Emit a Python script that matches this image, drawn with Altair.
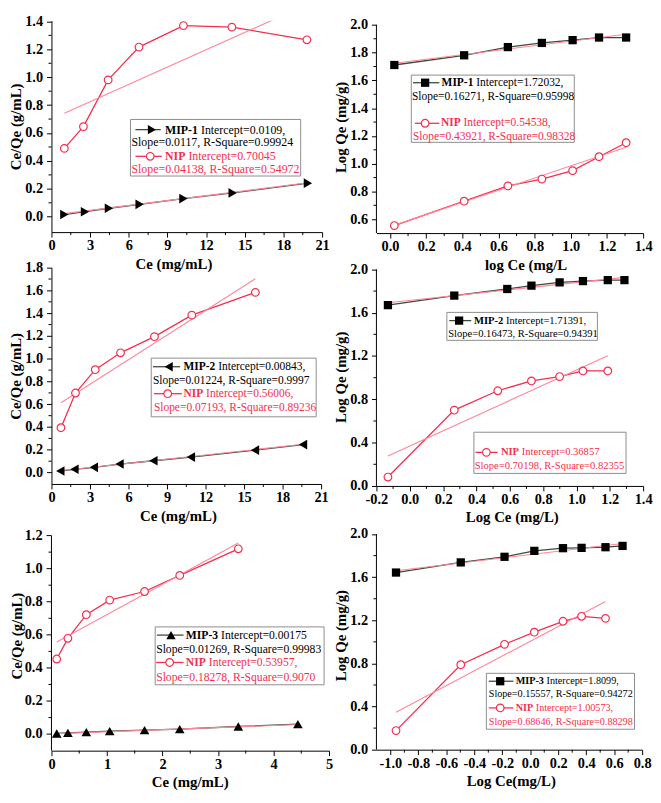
import altair as alt
import pandas as pd

FONT = "Liberation Serif"
RED = "#f2304e"
FIT = "#ff8799"
DARK = "#3b4b3b"
BOX = "#8c8c8c"

# ---------------- data ----------------
# Panel 1 : Langmuir, MIP-1 / NIP
p1_mip_x = [1.0, 2.6, 4.46, 6.84, 10.24, 14.06, 19.9]
p1_mip_y = [0.016, 0.036, 0.061, 0.089, 0.130, 0.171, 0.241]
p1_nip_x = [1.0, 2.48, 4.4, 6.79, 10.24, 14.0, 19.82]
p1_nip_y = [0.49, 0.646, 0.981, 1.216, 1.37, 1.359, 1.268]
p1_mfit_x = [1.0, 19.9]
p1_mfit_y = [0.0226, 0.2437]
p1_nfit_x = [1.0, 19.82]
p1_nfit_y = [0.742, 1.520]

# Panel 2 : Freundlich, MIP-1 / NIP
p2_mip_x = [0.024, 0.41, 0.652, 0.84, 1.01, 1.156, 1.306]
p2_mip_y = [1.711, 1.781, 1.84, 1.87, 1.89, 1.909, 1.909]
p2_nip_x = [0.024, 0.41, 0.652, 0.84, 1.01, 1.156, 1.306]
p2_nip_y = [0.554, 0.73, 0.84, 0.889, 0.95, 1.05, 1.151]
p2_mfit_x = [0.024, 1.306]
p2_mfit_y = [1.724, 1.933]
p2_nfit_x = [0.024, 1.306]
p2_nfit_y = [0.556, 1.119]

# Panel 3 : Langmuir, MIP-2 / NIP
p3_mip_x = [0.69, 1.79, 3.30, 5.30, 7.94, 10.86, 15.85, 19.59]
p3_mip_y = [0.014, 0.029, 0.046, 0.075, 0.104, 0.136, 0.197, 0.246]
p3_nip_x = [0.74, 1.87, 3.41, 5.38, 8.02, 10.93, 15.88]
p3_nip_y = [0.394, 0.699, 0.904, 1.052, 1.194, 1.383, 1.583]
p3_mfit_x = [0.69, 19.59]
p3_mfit_y = [0.0169, 0.2482]
p3_nfit_x = [0.74, 15.88]
p3_nfit_y = [0.613, 1.702]

# Panel 4 : Freundlich, MIP-2 / NIP
p4_mip_x = [-0.131, 0.267, 0.585, 0.730, 0.899, 1.039, 1.188, 1.288]
p4_mip_y = [1.670, 1.758, 1.819, 1.850, 1.880, 1.892, 1.901, 1.901]
p4_nip_x = [-0.131, 0.267, 0.528, 0.730, 0.899, 1.039, 1.188]
p4_nip_y = [0.082, 0.700, 0.879, 0.970, 1.010, 1.062, 1.062]
p4_mfit_x = [-0.131, 1.288]
p4_mfit_y = [1.692, 1.926]
p4_nfit_x = [-0.131, 1.188]
p4_nfit_y = [0.277, 1.203]

# Panel 5 : Langmuir, MIP-3 / NIP
p5_mip_x = [0.095, 0.296, 0.628, 1.049, 1.677, 2.311, 3.366, 4.439]
p5_mip_y = [0.004, 0.008, 0.012, 0.018, 0.024, 0.030, 0.046, 0.060]
p5_nip_x = [0.095, 0.296, 0.628, 1.049, 1.677, 2.311, 3.366]
p5_nip_y = [0.454, 0.579, 0.722, 0.810, 0.862, 0.959, 1.120]
p5_mfit_x = [0.095, 4.439]
p5_mfit_y = [0.0030, 0.0581]
p5_nfit_x = [0.095, 3.366]
p5_nfit_y = [0.557, 1.155]

# Panel 6 : Freundlich, MIP-3 / NIP
p6_mip_x = [-0.960, -0.497, -0.184, 0.029, 0.234, 0.367, 0.538, 0.660]
p6_mip_y = [1.643, 1.737, 1.789, 1.844, 1.869, 1.872, 1.878, 1.890]
p6_nip_x = [-0.960, -0.497, -0.184, 0.029, 0.234, 0.367, 0.538]
p6_nip_y = [0.177, 0.788, 0.977, 1.090, 1.191, 1.237, 1.218]
p6_mfit_x = [-0.960, 0.660]
p6_mfit_y = [1.660, 1.913]
p6_nfit_x = [-0.960, 0.538]
p6_nfit_y = [0.347, 1.375]

# ---------------- tick positions (labels formatted from them) ----------------
t_ce21 = [0, 3, 6, 9, 12, 15, 18, 21]
t_ce5 = [0, 1, 2, 3, 4, 5]
t_log14 = [0.0, 0.2, 0.4, 0.6, 0.8, 1.0, 1.2, 1.4]
t_log4 = [-0.2, 0.0, 0.2, 0.4, 0.6, 0.8, 1.0, 1.2, 1.4]
t_log6 = [-1.0, -0.8, -0.6, -0.4, -0.2, 0.0, 0.2, 0.4, 0.6, 0.8]
t_y1 = [0.0, 0.2, 0.4, 0.6, 0.8, 1.0, 1.2, 1.4]
t_y2 = [0.6, 0.8, 1.0, 1.2, 1.4, 1.6, 1.8, 2.0]
t_y3 = [0.0, 0.2, 0.4, 0.6, 0.8, 1.0, 1.2, 1.4, 1.6, 1.8]
t_y4 = [0.0, 0.4, 0.8, 1.2, 1.6, 2.0]
t_y5 = [0.0, 0.2, 0.4, 0.6, 0.8, 1.0, 1.2]

ONE = pd.DataFrame({"k": [0]})
BOLD_EM = {"MIP-1": 2.777, "MIP-2": 2.777, "MIP-3": 2.777, "NIP": 1.722}
LABEL_SIZE = 14.5


def axis(ticks, fmt, title, title_x=None, domain=True, own=False):
    kw = dict(
        values=list(ticks),
        tickCount=len(ticks) + 10,
        title=title,
        domain=domain,
        labelExpr=f"replace(format(datum.value, '{fmt}'), '\u2212', '-')",
        labelOverlap=False,
        labelFlush=False,
        labelBound=False,
    )
    if own:
        # ticks and labels drawn by separate layers
        kw.update(labels=False, ticks=False, titlePadding=27)
    if title_x is not None:
        kw["titleX"] = title_x
    return alt.Axis(**kw)


def mids(ticks):
    return [(a + b) / 2 for a, b in zip(ticks[:-1], ticks[1:])]


def frame(x, y):
    return pd.DataFrame({"x": x, "y": y})


def legend(box, rows, fs, sy=1.0, dy=0.0):
    x1, y1, x2, y2 = box
    out = [alt.Chart(ONE).mark_rect(fill="white", stroke=BOX, strokeWidth=1).encode(
        x=alt.value(x1), x2=alt.value(x2),
        y=alt.value(y1 * sy + dy), y2=alt.value(y2 * sy + dy))]
    for r in rows:
        y = r["y"] * sy + dy
        col = RED if r.get("red") else "black"
        if "sym" in r:
            a, b, m, shape, kind = r["sym"]
            lc = DARK if kind == "mip" else RED
            out.append(alt.Chart(ONE).mark_rule(color=lc, strokeWidth=1.3).encode(
                x=alt.value(a), x2=alt.value(b), y=alt.value(y)))
            if kind == "mip":
                pt = alt.Chart(ONE).mark_point(shape=shape, filled=True, color="black",
                                               size=70 if shape == "square" else 90, opacity=1)
            else:
                pt = alt.Chart(ONE).mark_point(shape="circle", filled=True, fill="white",
                                               stroke=RED, strokeWidth=1.2, size=60, opacity=1)
            out.append(pt.encode(x=alt.value(m), y=alt.value(y)))
        tx = r["x"]
        if "bold" in r:
            out.append(alt.Chart(ONE).mark_text(
                text=r["bold"], align="left", baseline="middle", font=FONT, fontSize=fs,
                fontWeight="bold", color=col).encode(x=alt.value(tx), y=alt.value(y)))
            tx = tx + (BOLD_EM[r["bold"]] + 0.25) * fs
        out.append(alt.Chart(ONE).mark_text(
            text=r["text"], align="left", baseline="middle", font=FONT, fontSize=fs,
            fontWeight="normal", color=col).encode(x=alt.value(tx), y=alt.value(y)))
    return out


def panel(mx, my, nx, ny, mfx, mfy, nfx, nfy, xdom, ydom, w, h,
          xt, xfmt, xtitle, xtitle_x, yt, ytitle, mshape, legends, yline=None,
          own_y=False):
    xax = axis(xt, xfmt, xtitle, xtitle_x)
    yax = axis(yt, ".1f", ytitle, domain=yline is None, own=own_y)
    X = alt.X("x:Q", scale=alt.Scale(domain=xdom, nice=False, zero=False), axis=xax)
    Y = alt.Y("y:Q", scale=alt.Scale(domain=ydom, nice=False, zero=False), axis=yax)
    msize = 70 if mshape == "square" else 95
    layers = [
        alt.Chart(frame(mx, my)).mark_line(color=DARK, strokeWidth=1.3).encode(X, Y),
        alt.Chart(frame(nx, ny)).mark_line(color=RED, strokeWidth=1.3).encode(X, Y),
        alt.Chart(frame(mfx, mfy)).mark_line(color=FIT, strokeWidth=1.1, clip=True).encode(X, Y),
        alt.Chart(frame(nfx, nfy)).mark_line(color=FIT, strokeWidth=1.1, clip=True).encode(X, Y),
        alt.Chart(frame(mx, my)).mark_point(shape=mshape, filled=True, color="black",
                                            size=msize, opacity=1).encode(X, Y),
        alt.Chart(frame(nx, ny)).mark_point(shape="circle", filled=True, fill="white",
                                            stroke=RED, strokeWidth=1.2, size=60,
                                            opacity=1).encode(X, Y),
        # minor ticks between the labelled ticks
        alt.Chart(pd.DataFrame({"x": mids(xt)})).mark_rule(color="black", strokeWidth=1).encode(
            X, y=alt.value(h), y2=alt.value(h + 3)),
        alt.Chart(pd.DataFrame({"y": mids(yt)})).mark_rule(color="black", strokeWidth=1).encode(
            Y, x=alt.value(0), x2=alt.value(-3)),
    ]
    if own_y:
        tdf = pd.DataFrame({"y": yt, "lab": [f"{v:.1f}" for v in yt]})
        layers.append(alt.Chart(tdf).mark_rule(color="black", strokeWidth=1).encode(
            Y, x=alt.value(0), x2=alt.value(-5)))
        layers.append(alt.Chart(tdf).mark_text(
            align="right", baseline="middle", font=FONT, fontSize=LABEL_SIZE,
            fontWeight="bold", color="black").encode(Y, x=alt.value(-9), text="lab:N"))
    if yline is not None:
        # y-axis line drawn only between the lowest and the highest tick
        span = ydom[1] - ydom[0]
        top = h * (ydom[1] - yline[1]) / span
        bot = h * (ydom[1] - yline[0]) / span
        layers.append(alt.Chart(ONE).mark_rule(color="black", strokeWidth=1).encode(
            x=alt.value(0), y=alt.value(top), y2=alt.value(bot)))
    for lg in legends:
        layers += lg
    return alt.layer(*layers).properties(width=w, height=h)


E3 = 13.7  # extra room above the top tick in the bottom row
H1, H2 = 214, 215

p1 = panel(p1_mip_x, p1_mip_y, p1_nip_x, p1_nip_y, p1_mfit_x, p1_mfit_y, p1_nfit_x, p1_nfit_y,
           [0, 21], [-0.11, 1.405], 274, H1,
           t_ce21, "d", "Ce (mg/mL)", 123.5, t_y1, "Ce/Qe (g/mL)",
           "triangle-right",
           [legend((80, 103.7, 252.3, 163.1), [
               {"y": 114.4, "sym": (85, 110.7, 101.7, "triangle-right", "mip"), "x": 115,
                "bold": "MIP-1", "text": "Intercept=0.0109,"},
               {"y": 127.7, "x": 81, "text": "Slope=0.0117, R-Square=0.99924"},
               {"y": 142.4, "sym": (85, 111.7, 100, "circle", "nip"), "x": 115,
                "bold": "NIP", "text": "Intercept=0.70045", "red": True},
               {"y": 155.7, "x": 81, "text": "Slope=0.04138, R-Square=0.54972", "red": True},
           ], 12, sy=H1 / 222)])

p2 = panel(p2_mip_x, p2_mip_y, p2_nip_x, p2_nip_y, p2_mfit_x, p2_mfit_y, p2_nfit_x, p2_nfit_y,
           [-0.075, 1.4], [0.5, 2.03], 270, H2,
           t_log14, ".1f", "log Ce (mg/L", 151, t_y2, "Log Qe (mg/g)",
           "square",
           [legend((35.3, 57.1, 200.3, 127.7), [
               {"y": 65.1, "sym": (37, 63.7, 49.3, "square", "mip"), "x": 66,
                "bold": "MIP-1", "text": "Intercept=1.72032,"},
               {"y": 79.7, "x": 36, "text": "Slope=0.16271, R-Square=0.95998"},
               {"y": 107.7, "sym": (39, 63.7, 49.3, "circle", "nip"), "x": 65.3,
                "bold": "NIP", "text": "Intercept=0.54538,", "red": True},
               {"y": 121.7, "x": 37, "text": "Slope=0.43921, R-Square=0.98328", "red": True},
           ], 11.6, sy=H2 / 223)],
           yline=(0.5, 2.0))

p3 = panel(p3_mip_x, p3_mip_y, p3_nip_x, p3_nip_y, p3_mfit_x, p3_mfit_y, p3_nfit_x, p3_nfit_y,
           [0, 21], [-0.1, 1.8], 273, 219,
           t_ce21, "d", "Ce (mg/mL)", 128, t_y3, "Ce/Qe (g/mL)",
           "triangle-left",
           [legend((101, 91.6, 268, 151), [
               {"y": 100.3, "sym": (102.7, 130.3, 118.7, "triangle-left", "mip"), "x": 133.7,
                "bold": "MIP-2", "text": "Intercept=0.00843,"},
               {"y": 115, "x": 102.7, "text": "Slope=0.01224, R-Square=0.9997"},
               {"y": 127.6, "sym": (103.7, 132, 117.7, "circle", "nip"), "x": 133.7,
                "bold": "NIP", "text": "Intercept=0.56006,", "red": True},
               {"y": 142, "x": 103.7, "text": "Slope=0.07193, R-Square=0.89236", "red": True},
           ], 11.6)])

p4 = panel(p4_mip_x, p4_mip_y, p4_nip_x, p4_nip_y, p4_mfit_x, p4_mfit_y, p4_nfit_x, p4_nfit_y,
           [-0.2, 1.4], [0.0, 2.016], 270, 221,
           t_log4, ".1f", "Log Ce (mg/L)", 137, t_y4, "Log Qe (mg/g)",
           "square",
           [legend((71.3, 45.3, 223.7, 73.6), [
               {"y": 53.6, "sym": (73.7, 96, 83.7, "square", "mip"), "x": 98.7,
                "bold": "MIP-2", "text": "Intercept=1.71391,"},
               {"y": 67, "x": 72.7, "text": "Slope=0.16473, R-Square=0.94391"},
           ], 10.7),
            legend((98.7, 166.6, 252.7, 208.3), [
               {"y": 187, "sym": (100.3, 122.7, 111.3, "circle", "nip"), "x": 126,
                "bold": "NIP", "text": "Intercept=0.36857", "red": True},
               {"y": 201, "x": 99.5, "text": "Slope=0.70198, R-Square=0.82355", "red": True},
           ], 10.7)],
           yline=(0.0, 2.0))

p5 = panel(p5_mip_x, p5_mip_y, p5_nip_x, p5_nip_y, p5_mfit_x, p5_mfit_y, p5_nfit_x, p5_nfit_y,
           [0, 5], [-0.1, 1.291], 281, 233,
           t_ce5, "d", "Ce (mg/mL)", 140, t_y5, "Ce/Qe (g/mL)",
           "triangle-up",
           [legend((105, 94, 276, 152.6), [
               {"y": 102.3, "sym": (106.7, 133.7, 121, "triangle-up", "mip"), "x": 136,
                "bold": "MIP-3", "text": "Intercept=0.00175"},
               {"y": 116.6, "x": 106, "text": "Slope=0.01269, R-Square=0.99983"},
               {"y": 130, "sym": (106, 133.7, 119.7, "circle", "nip"), "x": 136,
                "bold": "NIP", "text": "Intercept=0.53957,", "red": True},
               {"y": 145, "x": 106, "text": "Slope=0.18278, R-Square=0.9070", "red": True},
           ], 11.8, dy=E3)],
           yline=(-0.1, 1.2), own_y=True)

p6 = panel(p6_mip_x, p6_mip_y, p6_nip_x, p6_nip_y, p6_mfit_x, p6_mfit_y, p6_nfit_x, p6_nfit_y,
           [-1.1, 0.8], [0.0, 2.1255], 269, 232,
           t_log6, ".1f", "Log Ce(mg/L)", 136, t_y4, "Log Qe (mg/g)",
           "square",
           [legend((111.3, 141, 261.3, 197.6), [
               {"y": 149, "sym": (113.7, 138.7, 125.3, "square", "mip"), "x": 141,
                "bold": "MIP-3", "text": "Intercept=1.8099,"},
               {"y": 162.3, "x": 113.7, "text": "Slope=0.15557, R-Square=0.94272"},
               {"y": 176, "sym": (113.7, 138.7, 125.3, "circle", "nip"), "x": 141,
                "bold": "NIP", "text": "Intercept=1.00573,", "red": True},
               {"y": 190.3, "x": 113.7, "text": "Slope=0.68646, R-Square=0.88298", "red": True},
           ], 10.3, dy=E3)],
           yline=(0.0, 2.0))

chart = alt.concat(
    p1, p2, p3, p4, p5, p6,
    columns=2,
    spacing={"row": 35, "column": 48},
    bounds="flush",
).properties(
    padding={"left": 0, "top": 0, "right": 0, "bottom": 0}
).configure_view(
    stroke=None
).configure_axis(
    grid=False, labelOverlap=False,
    domainColor="black", domainWidth=1,
    tickColor="black", tickWidth=1, tickSize=5,
    labelFont=FONT, labelFontSize=LABEL_SIZE, labelFontWeight="bold", labelColor="black",
    titleFont=FONT, titleFontSize=15, titleFontWeight="bold", titleColor="black",
).configure_axisX(
    labelPadding=2, titlePadding=4
).configure_axisY(
    labelPadding=4, titlePadding=1
)

chart.save("out.html", embed_options={"renderer": "svg", "actions": False})
